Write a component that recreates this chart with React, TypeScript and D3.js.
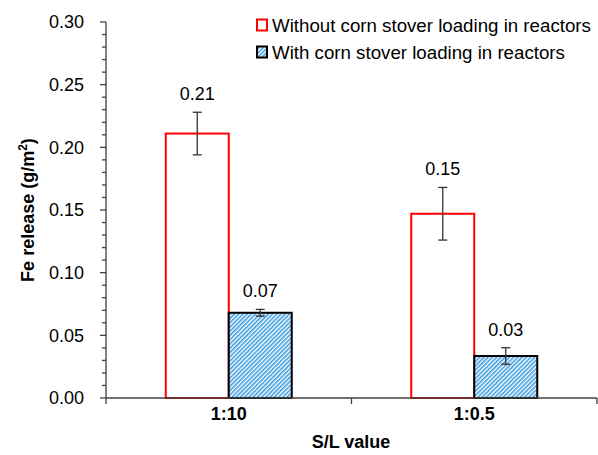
import React from "react";
import * as d3 from "d3";

const categories = ["1:10", "1:0.5"];
const seriesNames = [
  "Without corn stover loading in reactors",
  "With corn stover loading in reactors",
];
const withoutValues = [0.211, 0.147];
const withoutErrors = [0.017, 0.021];
const withValues = [0.068, 0.0335];
const withErrors = [0.0027, 0.0066];
const valueLabels = [
  ["0.21", "0.15"],
  ["0.07", "0.03"],
];
const yTicks = [0, 0.05, 0.1, 0.15, 0.2, 0.25, 0.3];

const W = 598;
const H = 455;
const left = 106;
const right = 597;
const top = 22;
const bottom = 398;
const FONT = "Liberation Sans, Arial, sans-serif";

export default function App() {
  const y = d3.scaleLinear().domain([0, 0.3]).range([bottom, top]);
  const x = d3.scaleBand<string>().domain(categories).range([left, right]).padding(0);
  const groupW = 126;
  const inner = d3.scaleBand<number>().domain([0, 1]).range([0, groupW]).padding(0);
  const minorTicks = d3.range(0, 31).map((i) => i / 100);
  const series = [
    { values: withoutValues, errors: withoutErrors },
    { values: withValues, errors: withErrors },
  ];

  return (
    <svg width={W} height={H} style={{ position: "absolute", left: 0, top: 0, background: "#fff" }}>
      <defs>
        <pattern id="hatch" width={3} height={3} patternUnits="userSpaceOnUse" patternTransform="rotate(45)">
          <rect width={3} height={3} fill="#ffffff" />
          <line x1={0} y1={0} x2={0} y2={3} stroke="#3d9be2" strokeWidth={3.2} />
        </pattern>
      </defs>
      <rect width={W} height={H} fill="#fff" />

      {/* bars */}
      {series.map((s, si) =>
        categories.map((c, ci) => {
          const bx = (x(c) as number) + x.bandwidth() / 2 - groupW / 2 + (inner(si) as number);
          const bw = inner.bandwidth();
          const v = s.values[ci];
          const e = s.errors[ci];
          const cx = bx + bw / 2;
          return (
            <g key={`${si}-${ci}`}>
              <rect
                x={bx}
                y={y(v)}
                width={bw}
                height={y(0) - y(v)}
                fill={si === 0 ? "none" : "url(#hatch)"}
                stroke={si === 0 ? "#ff0000" : "#000000"}
                strokeWidth={2}
              />
              <line x1={cx} x2={cx} y1={y(v + e)} y2={y(v - e)} stroke="#333" strokeWidth={1.3} />
              <line x1={cx - 4.5} x2={cx + 4.5} y1={y(v + e)} y2={y(v + e)} stroke="#333" strokeWidth={1.3} />
              <line x1={cx - 4.5} x2={cx + 4.5} y1={y(v - e)} y2={y(v - e)} stroke="#333" strokeWidth={1.3} />
              <text
                x={cx}
                y={y(v + e) - 12}
                textAnchor="middle"
                fontFamily={FONT}
                fontSize={18}
                fill="#000"
              >
                {valueLabels[si][ci]}
              </text>
            </g>
          );
        })
      )}

      {/* y axis */}
      <line x1={left} x2={left} y1={top} y2={bottom} stroke="#404040" strokeWidth={1.3} />
      {minorTicks.map((t, i) => (
        <line key={`m${i}`} x1={left - (i % 5 === 0 ? 6 : 4)} x2={left} y1={y(t)} y2={y(t)} stroke="#404040" strokeWidth={1.3} />
      ))}
      {yTicks.map((t) => (
        <text
          key={`yt${t}`}
          x={84}
          y={y(t)}
          dy="0.35em"
          textAnchor="end"
          fontFamily={FONT}
          fontSize={18}
          fill="#000"
        >
          {t.toFixed(2)}
        </text>
      ))}

      {/* x axis */}
      <line x1={left} x2={right} y1={bottom} y2={bottom} stroke="#404040" strokeWidth={1.3} />
      {[left, ...categories.map((c) => (x(c) as number) + x.bandwidth())].map((px, i) => (
        <line key={`xt${i}`} x1={px} x2={px} y1={bottom} y2={bottom + 6} stroke="#404040" strokeWidth={1.3} />
      ))}
      {categories.map((c) => (
        <text
          key={`xl${c}`}
          x={(x(c) as number) + x.bandwidth() / 2}
          y={420}
          textAnchor="middle"
          fontFamily={FONT}
          fontSize={18}
          fontWeight="bold"
          fill="#000"
        >
          {c}
        </text>
      ))}
      <text x={351} y={448} textAnchor="middle" fontFamily={FONT} fontSize={18} fontWeight="bold" fill="#000">
        S/L value
      </text>
      <text
        transform={`translate(34,${(top + bottom) / 2}) rotate(-90)`}
        textAnchor="middle"
        fontFamily={FONT}
        fontSize={18}
        fontWeight="bold"
        fill="#000"
      >
        Fe release (g/m<tspan baselineShift="super" fontSize={12}>2</tspan>)
      </text>

      {/* legend */}
      {seriesNames.map((n, i) => {
        const ly = 25 + i * 27;
        return (
          <g key={`lg${i}`}>
            <rect
              x={257}
              y={ly - 5.5}
              width={10}
              height={11}
              fill={i === 0 ? "none" : "url(#hatch)"}
              stroke={i === 0 ? "#ff0000" : "#000"}
              strokeWidth={2}
            />
            <text x={272} y={ly} dy="0.35em" fontFamily={FONT} fontSize={18.7} fill="#000">
              {n}
            </text>
          </g>
        );
      })}
    </svg>
  );
}
